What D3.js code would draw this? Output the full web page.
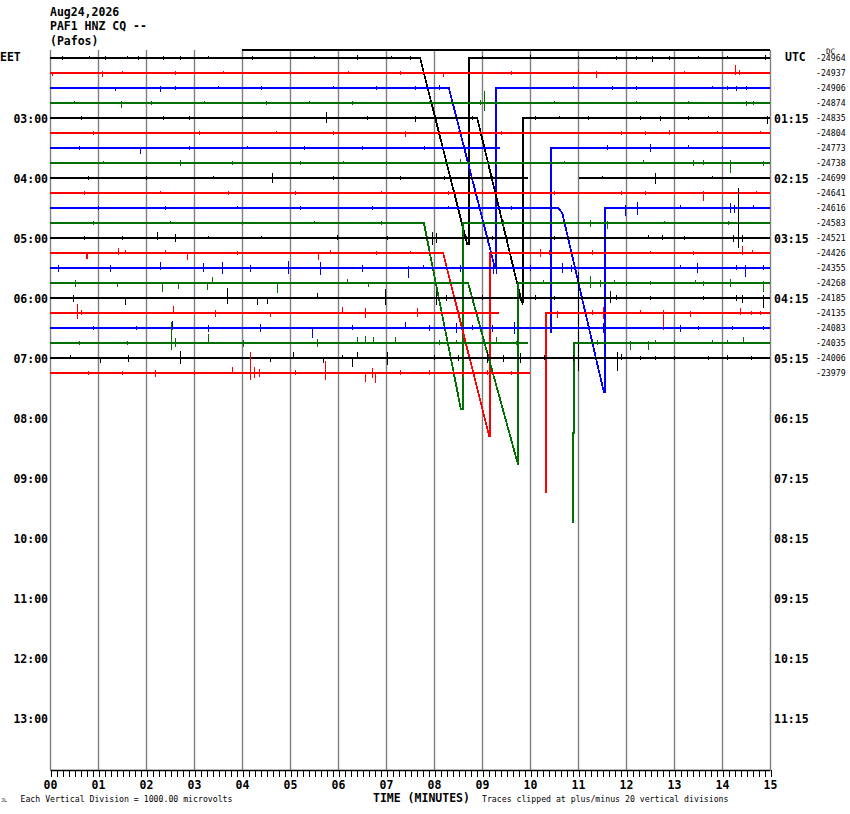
<!DOCTYPE html>
<html><head><meta charset="utf-8">
<script src="https://cdn.jsdelivr.net/npm/d3@7"></script>
<style>
body{margin:0;background:#fff}
svg{display:block}
text{font-family:"DejaVu Sans Mono",monospace}
</style>
</head><body>
<svg id="chart" width="850" height="814"></svg>
<script>
// ---------------- DATA ----------------
const headerLines = ["Aug24,2026", "PAF1 HNZ CQ --", "(Pafos)"];
const minuteTicks = d3.range(0, 16);
const minuteLabels = ["00","01","02","03","04","05","06","07","08","09","10","11","12","13","14","15"];
const minorTicks = d3.range(0, 15.001, 0.125);
const leftLabels = [[0,"EET"],[4,"03:00"],[8,"04:00"],[12,"05:00"],[16,"06:00"],[20,"07:00"],[24,"08:00"],[28,"09:00"],[32,"10:00"],[36,"11:00"],[40,"12:00"],[44,"13:00"]];
const rightLabels = [[0,"UTC"],[4,"01:15"],[8,"02:15"],[12,"03:15"],[16,"04:15"],[20,"05:15"],[24,"06:15"],[28,"07:15"],[32,"08:15"],[36,"09:15"],[40,"10:15"],[44,"11:15"]];
const dcValues = [-24964,-24937,-24906,-24874,-24835,-24804,-24773,-24738,-24699,-24641,-24616,-24583,-24521,-24426,-24355,-24268,-24185,-24135,-24083,-24035,-24006,-23979];
const rowColors = ["#000000", "#ff0000", "#0000ff", "#007000"];
const totalRows = 48;
const clipDivisions = 20;

// trace segments per row: [minute, value in vertical divisions]
const FULL = [[[0,0],[15,0]]];
const traces = [
  [[[0,0],[7.71,0],[8.69,-12.4],[8.73,-12.4],[8.73,0],[15,0]]],
  FULL,
  [[[0,0],[8.31,0],[9.27,-12.0],[9.29,-12.0],[9.29,0],[15,0]]],
  FULL,
  [[[0,0],[8.90,0],[9.83,-12.3],[9.85,-12.3],[9.85,0],[15,0]]],
  FULL,
  [[[0,0],[9.38,0]],[[10.43,-12.3],[10.43,0],[15,0]]],
  FULL,
  [[[0,0],[9.96,0]],[[11.02,0],[15,0]]],
  FULL,
  [[[0,0],[10.58,0],[10.67,-0.3],[11.54,-12.3],[11.56,-12.3],[11.56,0],[15,0]]],
  [[[0,0],[7.79,0],[8.56,-12.4],[8.60,-12.4],[8.60,0],[15,0]]],
  FULL,
  [[[0,0],[8.19,0],[9.15,-12.2],[9.17,-12.2],[9.17,0],[15,0]]],
  FULL,
  [[[0,0],[8.71,0],[9.75,-12.1],[9.75,0],[15,0]]],
  FULL,
  [[[0,0],[9.35,0]],[[10.33,-12.0],[10.33,0],[15,0]]],
  FULL,
  [[[0,0],[9.96,0]],[[10.90,-12.0],[10.90,-6.0],[10.92,-6.0],[10.92,0],[15,0]]],
  FULL,
  [[[0,0],[10.0,0]]]
];
const topTrace = [[4.0,0],[15,0]];

// spikes per row: [minute, max, min] in vertical divisions
const rowSpikes = [
  [[0.25,0.1,-0.1],[0.81,0.1,0],[1.15,0.1,-0.1],[1.6,0.1,0],[1.83,0.1,-0.1],[2.35,0.1,-0.1],[2.7,0.1,-0.1],[3.3,0.1,0],[4.2,0.1,-0.1],[5.5,0.1,0],[6.4,0.15,-0.1],[7.1,0.1,0],[7.5,0.1,-0.1],[9.0,0.1,0],[10.0,0.15,0],[11.0,0.1,0],[11.8,0.1,-0.1],[12.2,0.1,-0.1],[12.54,0.1,-0.2],[12.9,0.1,-0.1],[13.5,0.1,0],[14.1,0.1,0],[14.9,0.15,-0.1]],
  [[0.05,0,-0.15],[1.08,0.1,-0.2],[1.5,0.1,0],[2.6,0.1,-0.1],[3.6,0.1,0],[5.0,0.1,-0.1],[6.2,0.1,0],[7.3,0.1,-0.1],[8.19,0,-0.2],[9.6,0.1,-0.1],[11.0,0.15,0],[11.38,0.1,-0.3],[12.0,0.1,0],[13.2,0.1,0],[14.27,0.5,-0.1],[14.35,0.2,-0.1]],
  [[1.35,0,-0.15],[2.3,0.1,-0.2],[2.6,0.1,-0.1],[3.5,0.1,0],[4.4,0.1,-0.1],[5.9,0.1,0],[6.8,0.1,-0.1],[7.6,0.1,-0.1],[8.1,0.15,-0.1],[10.9,0.1,0],[11.7,0.1,-0.1],[12.2,0.1,-0.1],[13.8,0.1,0],[14.1,0.1,-0.1],[14.3,0.1,-0.15],[14.5,0.1,-0.1]],
  [[0.5,0.1,0],[1.48,0.1,-0.3],[2.1,0.1,-0.1],[3.2,0.1,0],[4.5,0.1,-0.1],[5.4,0.1,0],[6.3,0.1,-0.1],[7.9,0.1,0],[8.95,0.15,-0.1],[9.04,0.75,-0.5],[10.5,0.1,0],[12.2,0.1,0],[13.3,0.1,0],[14.5,0.1,-0.15],[14.65,0.1,-0.1]],
  [[0.65,0.1,-0.1],[2.35,0.1,-0.1],[2.9,0.1,-0.1],[4.0,0.1,0],[5.75,0.4,-0.3],[6.6,0.1,-0.1],[7.6,0.1,-0.2],[8.8,0.1,-0.1],[10.1,0.1,-0.1],[10.6,0.1,0],[11.2,0.1,-0.1],[12.3,0.1,-0.1],[12.7,0.1,-0.15],[13.3,0.1,-0.1],[13.7,0.1,0],[14.94,0.1,-0.35]],
  [[0.9,0.1,-0.1],[2.0,0.1,0],[3.1,0.1,-0.1],[4.7,0.1,0],[5.9,0.1,-0.1],[7.4,0.1,-0.2],[8.5,0.1,0],[9.4,0.1,-0.1],[11.9,0.1,-0.1],[12.4,0.1,-0.1],[12.9,0.15,-0.1],[13.9,0.1,0],[14.8,0.1,0]],
  [[0.6,0.1,-0.1],[1.88,0,-0.35],[2.9,0.1,-0.1],[4.1,0.1,0],[5.3,0.1,-0.1],[6.5,0.1,-0.1],[7.8,0.1,-0.1],[8.7,0.15,-0.1],[11.6,0.2,-0.1],[12.5,0.25,-0.2],[13.3,0.15,0],[14.0,0.1,0]],
  [[1.1,0.1,0],[2.71,0.2,-0.15],[3.8,0.1,-0.1],[5.2,0.1,-0.1],[6.1,0.1,0],[7.0,0.1,-0.1],[8.55,0.25,0],[9.3,0.1,-0.1],[10.7,0.1,0],[12.35,0.15,0],[13.4,0.2,-0.15],[13.6,0.15,-0.1],[14.17,0.2,-0.65],[14.85,0.1,-0.15]],
  [[0.8,0.1,-0.1],[2.0,0.1,-0.1],[3.4,0.1,0],[4.63,0.3,-0.3],[5.9,0.1,-0.1],[7.3,0.1,-0.1],[8.2,0.1,-0.1],[9.2,0.1,0],[11.5,0.1,0],[12.6,0.3,-0.35],[13.8,0.1,0]],
  [[0.7,0.1,-0.1],[2.3,0.1,0],[3.7,0.1,-0.1],[5.1,0.1,-0.1],[6.9,0.1,0],[8.3,0.1,-0.1],[9.0,0.15,-0.1],[10.5,0.1,-0.1],[11.9,0.1,-0.1],[12.4,0.1,-0.1],[13.6,0.1,-0.5],[14.7,0.1,0]],
  [[1.0,0.1,-0.1],[2.4,0.1,-0.1],[3.9,0.1,0],[5.2,0.1,-0.1],[6.7,0.1,-0.1],[8.3,0.1,0],[9.6,0.1,-0.1],[11.98,0.15,-0.5],[12.23,0.4,-0.45],[13.13,0.15,0],[14.17,0.3,-0.3],[14.25,0.2,-0.3],[14.65,0.2,0]],
  [[0.9,0.1,-0.1],[2.5,0.1,0],[4.0,0.1,-0.1],[5.5,0.1,0],[6.9,0.1,-0.1],[9.44,0.2,-0.2],[11.25,0.2,-0.2],[11.6,0.1,-0.35],[12.8,0.1,0],[14.13,0.1,-0.1]],
  [[0.7,0.1,-0.1],[1.5,0.1,-0.1],[2.22,0.35,-0.1],[2.6,0.25,-0.25],[3.3,0.1,0],[4.4,0.1,0],[5.98,0.2,-0.1],[7.02,0.1,-0.1],[7.96,0.4,-0.4],[8.04,0.3,-0.3],[8.67,0.1,-0.4],[9.2,0.1,-0.1],[10.5,0.1,-0.1],[12.46,0.2,0],[12.75,0.2,-0.1],[13.2,0.1,-0.1],[14.23,0.2,-0.2],[14.33,3.3,-0.65],[14.42,0.2,-0.2]],
  [[0.76,0,-0.35],[1.42,0.3,-0.1],[1.56,0.2,0],[2.40,0.2,0],[2.85,0,-0.4],[3.9,0.1,-0.1],[5.58,0,-0.4],[5.83,0.2,0],[6.8,0.1,-0.1],[7.5,0.1,0],[10.2,0.25,-0.25],[10.4,0.2,-0.1],[11.3,0.15,-0.1],[12.5,0.1,0],[13.4,0.1,-0.1],[14.42,0.45,-0.1],[14.63,0.15,0]],
  [[0.17,0.2,-0.2],[1.25,0.2,-0.2],[2.29,0.4,-0.1],[3.19,0.3,-0.25],[3.58,0.35,-0.35],[4.17,0.2,-0.2],[4.96,0.45,-0.35],[5.63,0.4,-0.4],[6.50,0.2,-0.2],[7.46,0.1,-0.6],[7.77,0.2,0],[8.55,0.2,-0.2],[9.23,0.35,-0.35],[9.29,0.3,-0.35],[10.0,0.15,-0.15],[10.67,0.3,-0.3],[10.85,0.2,-0.2],[11.54,0.3,-0.3],[13.13,0.2,0],[13.48,0.3,-0.3],[14.3,0.15,-0.1],[14.48,0.2,-0.55],[14.85,0.15,-0.1]],
  [[0.52,0.2,-0.2],[1.40,0,-0.2],[2.33,0,-0.55],[2.67,0,-0.35],[3.27,0,-0.45],[3.38,0.35,0],[4.73,0,-0.6],[6.19,0.25,0],[6.63,0,-0.2],[10.27,0.2,0],[11.25,0.45,-0.3],[11.46,0.2,-0.2],[11.75,0.2,0],[12.0,0.1,-0.15],[12.5,0.1,-0.1],[13.44,0.2,0],[13.6,0.1,-0.15],[14.17,0.25,-0.25],[14.85,0.1,-0.55]],
  [[0.48,0.2,-0.2],[1.56,0,-0.4],[3.69,0.65,-0.35],[4.31,0,-0.4],[4.52,0,-0.35],[5.56,0.3,0],[6.98,0.6,-0.4],[8.04,0.45,-0.45],[8.25,0.2,-0.15],[9.0,0.2,-0.1],[9.83,0.1,-0.4],[10.1,0.2,-0.1],[10.5,0.1,-0.1],[11.0,1.73,-4.8],[11.67,0.45,-0.3],[11.8,0.2,-0.1],[12.5,0.1,-0.1],[13.6,0.1,-0.1],[14.3,0.15,-0.15],[14.42,0.15,-0.3],[14.85,0.15,-0.65]],
  [[0.56,0.55,-0.35],[0.65,0.2,-0.1],[2.56,0.45,0],[3.44,0.2,-0.2],[4.58,0,-0.2],[6.08,0.35,0],[6.56,0.3,-0.3],[7.65,0.3,-0.2],[8.5,0.1,-0.1],[10.56,0.1,-0.3],[11.3,0.2,-0.1],[11.52,0.35,-0.35],[12.3,0.15,0],[12.77,0.15,-1.1],[13.33,0.1,-0.2],[14.38,0.3,-0.1],[14.6,0.1,-0.1],[14.8,0.1,-0.1]],
  [[0.9,0.1,-0.1],[1.8,0.1,-0.1],[2.54,0.45,-0.1],[3.29,0.2,-0.2],[4.38,0.25,-0.25],[5.46,0,-0.65],[6.3,0.15,-0.1],[7.40,0.35,0],[7.9,0.15,-0.15],[8.46,0.3,-0.3],[8.8,0.2,-0.1],[9.21,0.2,-0.2],[9.67,0.35,-0.35],[10.42,0.2,-0.2],[11.52,0.3,-0.3],[13.13,0.2,-0.2],[13.5,0.1,-0.1],[14.2,0.1,-0.1],[14.85,0.1,-0.1]],
  [[0.6,0.1,-0.1],[1.6,0.1,-0.1],[2.52,1.4,-0.45],[2.6,0.3,-0.2],[3.29,0.55,0],[4.02,0.2,-0.2],[5.56,0.25,-0.25],[6.40,0.4,0],[6.56,0.45,0],[6.73,0.4,0],[7.19,0.4,0],[8.1,0.15,-0.1],[8.45,0.2,0],[9.29,0.35,0],[9.7,0.1,-0.1],[11.4,0.2,-0.1],[12.08,0.1,-0.4],[12.46,0.1,-0.45],[12.6,0.2,0],[13.0,0.15,0],[13.8,0.2,0],[14.1,0.15,0],[14.44,0.35,0]],
  [[0.42,0.2,0],[1.04,0,-0.3],[1.63,0.2,-0.2],[2.71,0.45,-0.35],[4.58,0,-0.2],[5.06,0.4,0],[5.69,0,-0.3],[6.08,0.2,0],[6.29,0,-0.55],[6.40,0.35,0],[7.02,0.4,-0.4],[8.0,0.2,-0.1],[8.5,0.15,-0.15],[9.1,0.35,-0.3],[9.44,0.2,-0.2],[9.8,0.3,-0.3],[10.3,0.15,-0.1],[10.9,0.15,-0.15],[11.81,0.35,-0.8],[11.9,0.25,-0.1],[12.29,0.1,-0.1],[12.6,0.1,-0.1],[13.0,0.1,-0.1],[13.7,0.1,-0.1],[14.1,0.15,-0.1],[14.6,0.1,-0.1]],
  [[0.8,0.1,-0.1],[1.5,0.1,-0.1],[2.19,0.2,-0.2],[3.0,0.1,-0.1],[3.79,0.4,0],[4.17,1.35,-0.4],[4.25,0.4,-0.3],[4.35,0.25,-0.2],[5.1,0.2,-0.1],[5.73,0.75,-0.45],[6.56,0,-0.55],[6.7,0.3,-0.3],[6.77,0,-0.6],[7.3,0.2,-0.1],[7.9,0.15,-0.1],[8.6,0.2,-0.2],[9.1,0.15,-0.1],[9.6,0.1,-0.1]]
];

const bottomNote = "Each Vertical Division = 1000.00 microvolts";
const clipNote = "Traces clipped at plus/minus 20 vertical divisions";
const axisTitle = "TIME (MINUTES)";

// ---------------- DRAWING ----------------
const svg = d3.select("#chart");
const x = d3.scaleLinear().domain([0, 15]).range([50, 770]);
const rowY = d3.scaleLinear().domain([0, totalRows - 1]).range([58, 58 + 15 * (totalRows - 1)]);
const amp = d3.scaleLinear().domain([-clipDivisions, clipDivisions]).range([15 * clipDivisions, -15 * clipDivisions]).clamp(true);
const plotTop = 50, plotBottom = 770;

// header
svg.append("g").selectAll("text").data(headerLines).join("text")
  .attr("x", 50).attr("y", (d, i) => 16 + i * 14.3)
  .attr("font-size", 11.5).attr("font-weight", "bold").text(d => d);

// gridlines
svg.append("g").selectAll("line").data(minuteTicks).join("line")
  .attr("x1", d => x(d) + 0.5).attr("x2", d => x(d) + 0.5)
  .attr("y1", plotTop).attr("y2", plotBottom)
  .attr("stroke", "#808080").attr("stroke-width", 1.4);

// top trace line
svg.append("path").datum(topTrace)
  .attr("d", d3.line().x(d => x(d[0])).y(d => plotTop + amp(d[1])))
  .attr("fill", "none").attr("stroke", "#000").attr("stroke-width", 1.5)
  .attr("shape-rendering", "crispEdges");

// traces
const line = d3.line().x(d => x(d[0]));
const traceG = svg.append("g");
traces.forEach((segs, i) => {
  const y0 = rowY(i);
  const col = rowColors[i % 4];
  segs.forEach(seg => {
    traceG.append("path").datum(seg)
      .attr("d", line.y(d => y0 + amp(d[1])))
      .attr("fill", "none").attr("stroke", col).attr("stroke-width", 1.8)
      .attr("shape-rendering", "crispEdges");
  });
  // spikes within existing segments
  const ranges = segs.map(s => [d3.min(s, d => d[0]), d3.max(s, d => d[0])]);
  const sp = (rowSpikes[i] || []).filter(s => ranges.some(r => s[0] >= r[0] && s[0] <= r[1]));
  traceG.append("g").selectAll("line").data(sp).join("line")
    .attr("x1", d => x(d[0]) + 0.5).attr("x2", d => x(d[0]) + 0.5)
    .attr("y1", d => y0 + amp(d[1]) - 0.5).attr("y2", d => y0 + amp(d[2]) + 0.5)
    .attr("stroke", col).attr("stroke-width", d => (d[1] - d[2]) > 0.6 ? 1.5 : 1.1)
    .attr("shape-rendering", "crispEdges");
});

// left hour labels
svg.append("g").selectAll("text").data(leftLabels).join("text")
  .attr("x", d => d[0] === 0 ? 0 : 48)
  .attr("text-anchor", d => d[0] === 0 ? "start" : "end")
  .attr("y", d => rowY(d[0]) + (d[0] === 0 ? 2.5 : 4.5))
  .attr("font-size", 11.5).attr("font-weight", "bold").text(d => d[1]);

// right labels
svg.append("g").selectAll("text").data(rightLabels).join("text")
  .attr("x", d => d[0] === 0 ? 785 : 774)
  .attr("y", d => rowY(d[0]) + (d[0] === 0 ? 2.5 : 4.5))
  .attr("font-size", 11.5).attr("font-weight", "bold").text(d => d[1]);

// DC values
svg.append("text").attr("x", 826).attr("y", 54).attr("font-size", 7.5).text("DC");
svg.append("g").selectAll("text").data(dcValues).join("text")
  .attr("x", 816).attr("y", (d, i) => rowY(i) + 3)
  .attr("font-size", 8.2).text(d => d);

// bottom axis: minor ticks
const axisMinor = d3.axisBottom(x).tickValues(minorTicks).tickSize(7).tickSizeOuter(0).tickFormat("");
const ga = svg.append("g").attr("transform", `translate(0,${plotBottom})`).call(axisMinor);
ga.select(".domain").attr("stroke", "#000").attr("stroke-width", 1.5);
ga.selectAll(".tick line").attr("stroke", "#000").attr("stroke-width", 1).attr("shape-rendering", "crispEdges")
  .attr("transform", "translate(0.5,0)");

const axisMajor = d3.axisBottom(x).tickValues(minuteTicks).tickSize(0).tickPadding(11)
  .tickFormat((d, i) => minuteLabels[i]);
const gm = svg.append("g").attr("transform", `translate(0,${plotBottom})`).call(axisMajor);
gm.select(".domain").remove();
gm.selectAll(".tick text").attr("font-size", 11.5).attr("font-weight", "bold")
  .attr("font-family", "DejaVu Sans Mono").attr("fill", "#000");

// bottom texts
svg.append("text").attr("x", 373).attr("y", 802).attr("font-size", 11.5).attr("font-weight", "bold").text(axisTitle);
svg.append("text").attr("x", 20.5).attr("y", 802).attr("font-size", 8.2).text(bottomNote);
svg.append("text").attr("x", 482).attr("y", 802).attr("font-size", 8.2).text(clipNote);
svg.append("text").attr("x", 1).attr("y", 802).attr("font-size", 5).text("JL");
</script>
</body></html>
